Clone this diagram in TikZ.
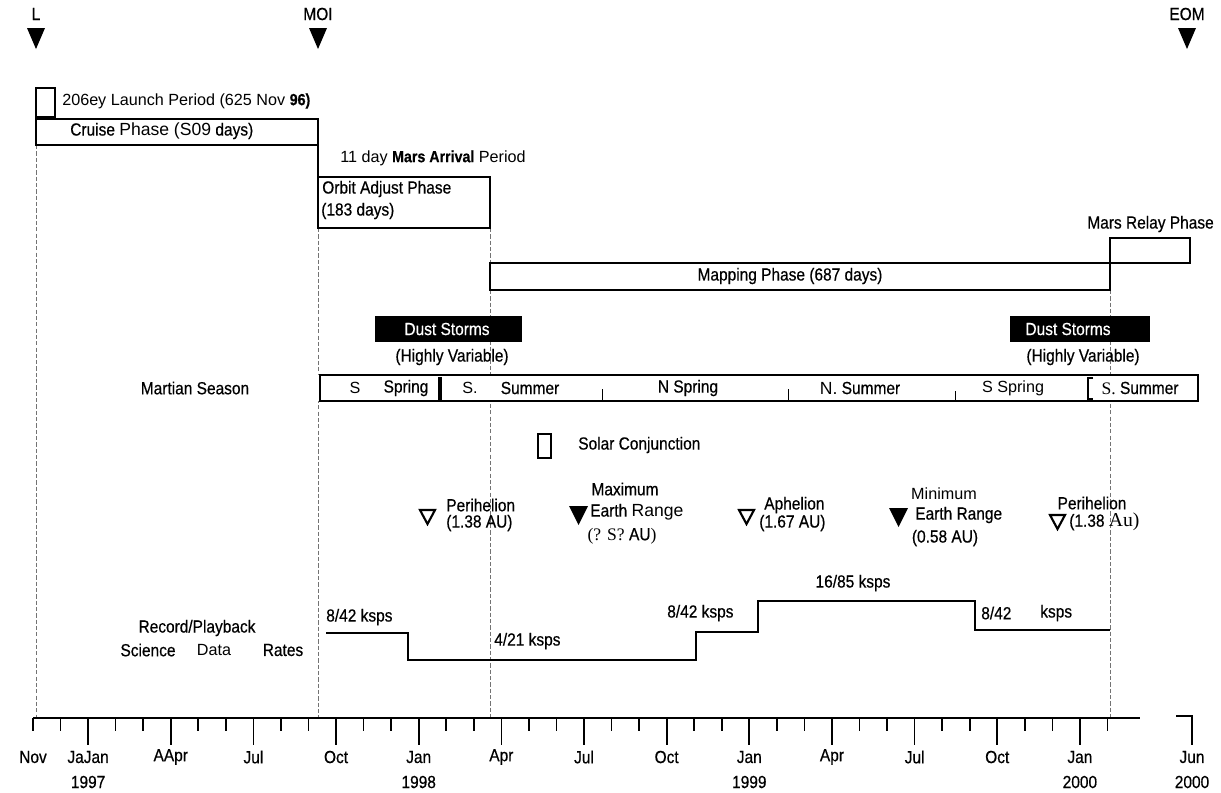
\documentclass[tikz,border=0pt]{standalone}
\usepackage{fontspec}
\setmainfont{Liberation Sans}
\newfontfamily\narrowfont[FakeStretch=0.88, FakeBold=0.5]{Liberation Sans}
\newfontfamily\regfont{Liberation Sans}
\newfontfamily\serffont{Liberation Serif}
\usetikzlibrary{positioning}

\begin{document}
\begin{tikzpicture}[x=0.025cm, y=-0.025cm]
    \tikzstyle{txt} = [inner sep=0pt, font=\narrowfont\fontsize{12.5}{14}\selectfont]
    \tikzstyle{wide} = [inner sep=0pt, font=\regfont\fontsize{11.5}{13}\selectfont]
    \tikzstyle{phasebox} = [draw, line width=1pt]
    \tikzstyle{guide} = [black!55, line width=0.5pt, dash pattern=on 3pt off 1.5pt]
    \tikzstyle{opentri} = [draw, line width=1.5pt, line join=miter]
    \tikzstyle{rate} = [line width=1.3pt]

    \useasboundingbox (0,0) rectangle (1221,792);

    % mission events
    \node[txt] (lmark) at (36,14) {L};
    \node[txt] (moimark) at (318,14) {MOI};
    \node[txt] (eommark) at (1187,14) {EOM};
    \foreach \ex in {36,318,1187}
        \fill (\ex-9,28) -- (\ex+9,28) -- (\ex,49) -- cycle;

    % guide lines
    \draw[guide] (36,145) -- (36,718);
    \draw[guide] (318,228) -- (318,718);
    \draw[guide] (490,228) -- (490,263) (490,290) -- (490,718);
    \draw[guide] (1110,290) -- (1110,718);

    % phases
    \draw[phasebox] (36,88) rectangle (55,117);
    \node[wide, anchor=west] (launch) at (62,101) {206ey Launch Period (625 Nov {\narrowfont\bfseries 96)}};
    \draw[phasebox] (36,119) rectangle (318,145);
    \draw[line width=1.4pt] (318,119) -- (318,177);
    \node[txt, anchor=west] (cruise) at (70,131) {Cruise {\regfont Phase (S09} days)};
    \node[wide, anchor=west] (arrival) at (340,158) {11 day {\narrowfont\bfseries Mars Arrival} Period};
    \draw[phasebox] (318,177) rectangle (490,228);
    \node[txt, anchor=west] (orbit) at (322,189) {Orbit Adjust Phase};
    \node[txt, anchor=west] (orbitdays) at (321,211) {(183 days)};
    \node[txt, anchor=east] (relay) at (1214,224) {Mars Relay Phase};
    \draw[phasebox] (1110,238) rectangle (1190,263);
    \draw[phasebox] (490,263) rectangle (1110,290);
    \node[txt] (mapping) at (790,276) {Mapping Phase (687 days)};

    % dust storms
    \fill (375,316) rectangle (522,342);
    \node[txt, text=white] (dust1) at (447,329) {Dust Storms};
    \node[txt] (var1) at (452,357) {(Highly Variable)};
    \fill (1010,316) rectangle (1150,342);
    \node[txt, text=white] (dust2) at (1068,329) {Dust Storms};
    \node[txt] (var2) at (1083,357) {(Highly Variable)};

    % martian season
    \node[txt] (season) at (195,388) {Martian Season};
    \fill[white] (318,375) rectangle (1200,401);
    \draw[line width=1.2pt] (326,375) -- (1196,375) (326,401) -- (1196,401);
    \draw[line width=1.4pt] (327,375) -- (320,375) -- (320,401) -- (327,401);
    \draw[line width=1.4pt] (1193,375) -- (1198,375) -- (1198,401) -- (1193,401);
    \draw[line width=2.5pt] (440,377) -- (440,400);
    \draw[line width=0.7pt] (602,389) -- (602,401) (788,389) -- (788,401) (955,391) -- (955,401);
    \draw[line width=1.1pt] (1093,378) -- (1088,378) -- (1088,399) -- (1093,399);
    \node[wide] (ss1) at (355,388) {S};
    \node[txt] (sp1) at (406,388) {Spring};
    \node[wide] (ss2) at (470,388) {S.};
    \node[txt] (su1) at (530,388) {Summer};
    \node[txt] (nsp) at (688,388) {N Spring};
    \node[txt] (nsu) at (860,388) {{\regfont N.} Summer};
    \node[wide] (sp2) at (1013,388) {S Spring};
    \node[txt] (su2) at (1140,388) {{\serffont S.} Summer};

    % solar conjunction
    \draw[line width=1.3pt] (538,434) rectangle (551,458);
    \node[txt, anchor=west] (solar) at (578,445) {Solar Conjunction};

    % orbit geometry
    \draw[opentri] (420,510) -- (435,510) -- (427.5,524) -- cycle;
    \node[txt, anchor=west] (peri1) at (446,505) {Perihelion};
    \node[txt, anchor=west] (peri1au) at (446,523) {(1.38 AU)};
    \fill (569,506) -- (588,506) -- (578.5,525) -- cycle;
    \node[txt] (maxr) at (625,489) {Maximum};
    \node[txt, anchor=west] (maxr2) at (590,512) {Earth {\regfont Range}};
    \node[inner sep=0pt, font=\serffont\fontsize{12.5}{14}\selectfont] (maxr3) at (622,536) {(? S? {\narrowfont AU})};
    \draw[opentri] (739,510) -- (754,510) -- (746.5,524) -- cycle;
    \node[txt, anchor=west] (aph) at (764,505) {Aphelion};
    \node[txt, anchor=west] (aphau) at (759,523) {(1.67 AU)};
    \fill (889,508) -- (908,508) -- (898.5,527) -- cycle;
    \node[wide] (minr) at (944,494) {Minimum};
    \node[txt, anchor=west] (minr2) at (915,515) {Earth Range};
    \node[txt] (minr3) at (945,538) {(0.58 AU)};
    \node[txt] (peri2) at (1092,503) {Perihelion};
    \draw[opentri] (1050,515) -- (1065,515) -- (1057.5,529) -- cycle;
    \node[txt, anchor=west] (peri2au) at (1069,522) {(1.38 {\serffont\fontsize{14}{14}\selectfont Au)}};

    % data rates
    \node[txt] (rec) at (197,628) {Record/Playback};
    \node[txt] (sci) at (148,650) {Science};
    \node[wide] (dat) at (214,650) {Data};
    \node[txt] (rat) at (283,650) {Rates};
    \draw[rate] (326,633) -- (408,633) -- (408,660) -- (696,660) -- (696,632)
        -- (758,632) -- (758,601) -- (975,601) -- (975,630) -- (1110,630);
    \node[txt, anchor=west] (r1) at (326,617) {8/42 ksps};
    \node[txt, anchor=west] (r2) at (494,641) {4/21 ksps};
    \node[txt, anchor=west] (r3) at (667,613) {8/42 ksps};
    \node[txt] (r4) at (853,583) {16/85 ksps};
    \node[txt, anchor=west] (r5) at (981,613) {8/42};
    \node[txt, anchor=west] (r5b) at (1040,613) {ksps};

    % time axis
    \draw[line width=1.2pt] (33,718) -- (1140,718);
    \foreach \m in {0,...,39} {
        \pgfmathsetmacro\tl{ifthenelse(mod(\m,3)==2,745,731)}
        \draw[line width=1.2pt] ({33+27.55*\m},718) -- ({33+27.55*\m},\tl);
    }
    \draw[line width=1.2pt] (1176,716) -- (1192,716) -- (1192,745);
    \foreach \m/\lab in {0/Nov,2/JaJan,5/AApr,8/Jul,11/Oct,14/Jan,17/Apr,20/Jul,23/Oct,26/Jan,29/Apr,32/Jul,35/Oct,38/Jan}
        \node[txt] (mon\m) at ({33+27.55*\m},757) {\lab};
    \node[txt] (jun) at (1192,757) {Jun};
    \foreach \m/\yr in {2/1997,14/1998,26/1999,38/2000}
        \node[txt] (yr\m) at ({33+27.55*\m},782) {\yr};
    \node[txt] (yrjun) at (1192,782) {2000};
\end{tikzpicture}
\end{document}
